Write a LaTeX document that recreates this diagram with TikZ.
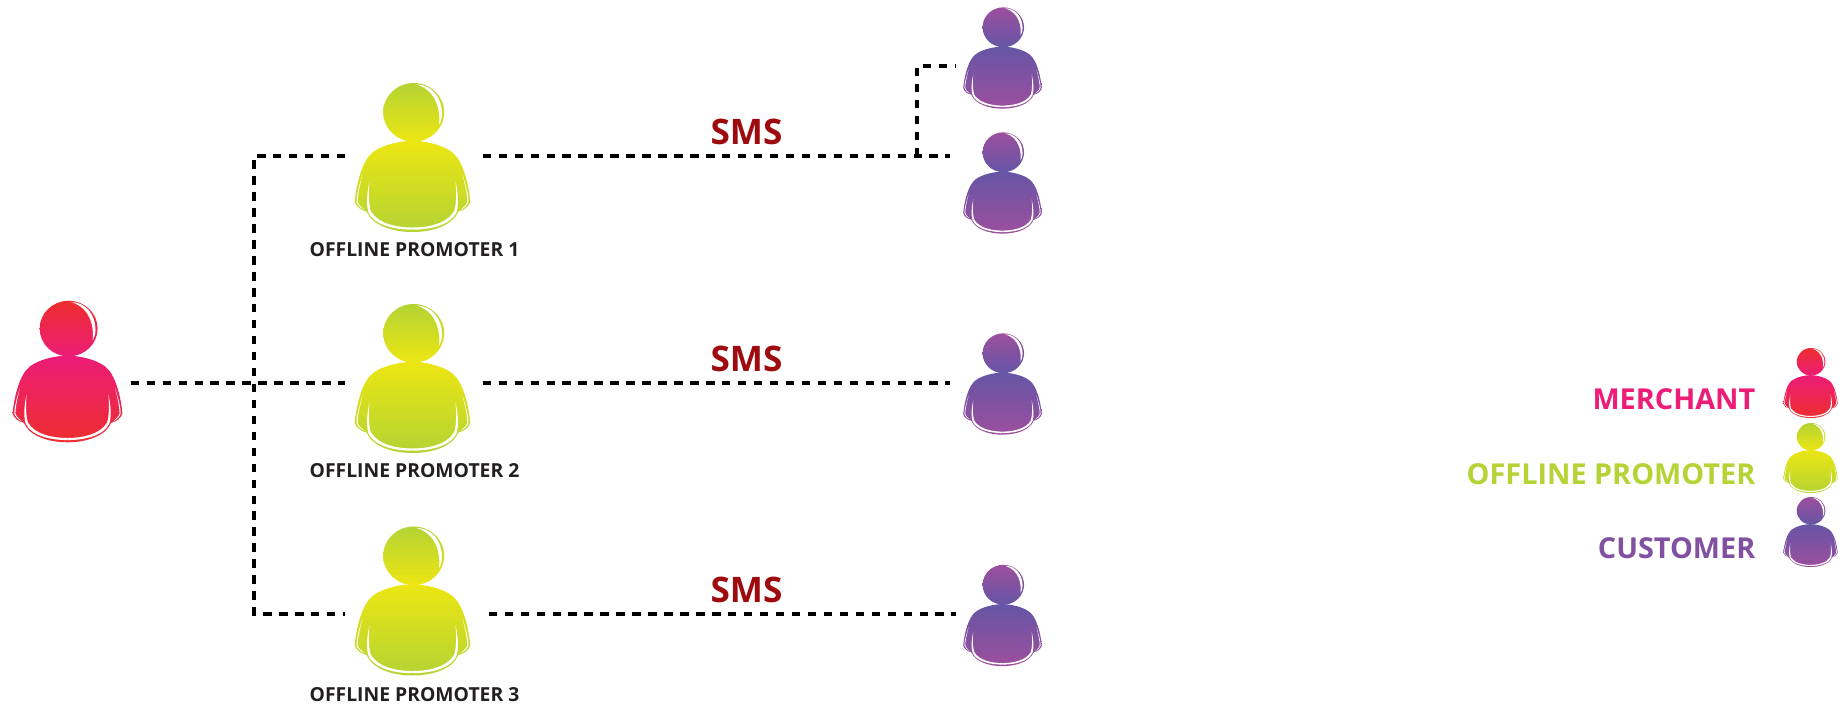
\documentclass[tikz,border=0pt]{standalone}
\usepackage{fontspec}
\setmainfont{Open Sans}
\usepackage{tikz}
\usetikzlibrary{positioning}
\definecolor{merchanthead}{HTML}{EE2E2E}
\definecolor{merchantneck}{HTML}{EC1C78}
\definecolor{promoterhead}{HTML}{B4D334}
\definecolor{promoterneck}{HTML}{ECE612}
\definecolor{customerhead}{HTML}{9C4F9E}
\definecolor{customerneck}{HTML}{6655A5}
\definecolor{customertext}{HTML}{8150A0}
\definecolor{smsred}{HTML}{9E0B0F}
\definecolor{labelgray}{HTML}{231F20}
\tikzset{
  port/.style={inner sep=0pt,minimum size=0pt},
  link/.style={line width=1pt,dash pattern=on 2.4pt off 2.14pt,black},
  smslabel/.style={text=smsred,font=\fontsize{10}{12}\bfseries},
  promoterlabel/.style={text=labelgray,font=\fontsize{5.5}{6}\bfseries},
  legendlabel/.style={anchor=east,inner sep=0pt,font=\fontsize{8.2}{9}\bfseries},
  pics/person/.style n args={2}{code={
    \shade[top color=#1,bottom color=#2] (0.012,0.452) ellipse (0.305 and 0.293);
    \shade[top color=#2,bottom color=#1] (0,0.168) .. controls (-0.12,0.165) and (-0.30,0.13) .. (-0.40,0.05)
      .. controls (-0.50,-0.03) and (-0.56,-0.25) .. (-0.578,-0.44)
      .. controls (-0.57,-0.49) and (-0.51,-0.53) .. (-0.46,-0.54)
      .. controls (-0.40,-0.68) and (-0.2,-0.745) .. (0,-0.745)
      .. controls (0.2,-0.745) and (0.40,-0.68) .. (0.46,-0.54)
      .. controls (0.51,-0.53) and (0.57,-0.49) .. (0.578,-0.44)
      .. controls (0.56,-0.25) and (0.50,-0.03) .. (0.40,0.05)
      .. controls (0.30,0.13) and (0.12,0.165) .. (0,0.168) -- cycle;
    \fill[white] (0.04,0.73) .. controls (0.19,0.73) and (0.295,0.6) .. (0.295,0.44)
      .. controls (0.295,0.4) and (0.285,0.36) .. (0.265,0.33)
      .. controls (0.28,0.45) and (0.25,0.67) .. (0.04,0.73) -- cycle;
    \foreach \s in {1,-1} {
      \begin{scope}[xscale=\s]
        \fill[white] (0.43,-0.24) .. controls (0.455,-0.35) and (0.465,-0.47) .. (0.44,-0.55)
          .. controls (0.37,-0.69) and (0.15,-0.722) .. (0,-0.722)
          -- (0,-0.70) .. controls (0.15,-0.70) and (0.34,-0.665) .. (0.415,-0.54)
          .. controls (0.44,-0.47) and (0.44,-0.35) .. (0.43,-0.24) -- cycle;
        \fill[white] (0.50,-0.17) .. controls (0.53,-0.27) and (0.56,-0.37) .. (0.56,-0.44)
          .. controls (0.555,-0.47) and (0.52,-0.505) .. (0.48,-0.525)
          .. controls (0.52,-0.49) and (0.548,-0.46) .. (0.548,-0.44)
          .. controls (0.548,-0.36) and (0.52,-0.26) .. (0.50,-0.17) -- cycle;
      \end{scope}
    }
  }}
}
\begin{document}
\begin{tikzpicture}[line cap=butt]
\useasboundingbox (0,0) rectangle (18.47,7.07);
\pic[scale=0.95] at (0.675,3.355) {person={merchanthead}{merchantneck}};
\pic at (4.125,5.495) {person={promoterhead}{promoterneck}};
\pic at (4.125,3.285) {person={promoterhead}{promoterneck}};
\pic at (4.125,1.06) {person={promoterhead}{promoterneck}};
\pic[scale=0.68] at (10.025,6.49) {person={customerhead}{customerneck}};
\pic[scale=0.68] at (10.025,5.24) {person={customerhead}{customerneck}};
\pic[scale=0.68] at (10.025,3.23) {person={customerhead}{customerneck}};
\pic[scale=0.68] at (10.025,0.915) {person={customerhead}{customerneck}};
\pic[scale=0.47] at (18.105,3.24) {person={merchanthead}{merchantneck}};
\pic[scale=0.47] at (18.105,2.49) {person={promoterhead}{promoterneck}};
\pic[scale=0.47] at (18.105,1.75) {person={customerhead}{customerneck}};
\node[port] (merchant) at (1.3,3.24) {};
\node[port,minimum width=1.36cm] (promoter1) at (4.14,5.51) {};
\node[port,minimum width=1.36cm] (promoter2) at (4.14,3.24) {};
\node[port,minimum width=1.42cm] (promoter3) at (4.17,0.93) {};
\node[port] (customer1) at (9.57,6.41) {};
\node[port] (customer2) at (9.51,5.51) {};
\node[port] (customer3) at (9.51,3.22) {};
\node[port] (customer4) at (9.57,0.93) {};
\coordinate (trunktop) at (2.54,5.51);
\coordinate (trunkbottom) at (2.54,0.93);
\coordinate (branch) at (9.17,5.51);
\draw[link] (merchant.east) -- (promoter2.west);
\draw[link] (promoter1.west) -- (trunktop) -- (trunkbottom) -- (promoter3.west);
\draw[link] (promoter1.east) -- (customer2.west);
\draw[link] (promoter2.east) -- (customer3.west |- promoter2.east);
\draw[link] (promoter3.east) -- (customer4.west);
\draw[link] (branch) |- (customer1.west);
\node[smslabel] (sms1) at (7.465,5.75) {SMS};
\node[smslabel] (sms2) at (7.465,3.48) {SMS};
\node[smslabel] (sms3) at (7.465,1.17) {SMS};
\node[promoterlabel] (label1) at (4.145,4.57) {OFFLINE PROMOTER 1};
\node[promoterlabel] (label2) at (4.145,2.36) {OFFLINE PROMOTER 2};
\node[promoterlabel] (label3) at (4.145,0.12) {OFFLINE PROMOTER 3};
\node[legendlabel,text=merchantneck] (legend1) at (17.56,3.08) {MERCHANT};
\node[legendlabel,text=promoterhead] (legend2) at (17.56,2.33) {OFFLINE PROMOTER};
\node[legendlabel,text=customertext] (legend3) at (17.56,1.59) {CUSTOMER};
\end{tikzpicture}
\end{document}
